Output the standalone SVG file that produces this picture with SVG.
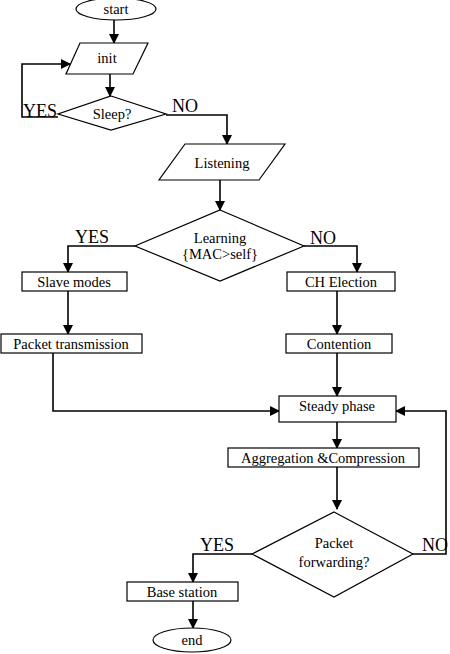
<svg xmlns="http://www.w3.org/2000/svg" width="450" height="654" viewBox="0 0 450 654">
<style>
.s{fill:#fff;stroke:#000;stroke-width:1.2}
.t{font-family:"Liberation Serif","Times New Roman",serif;font-size:14.5px;fill:#000;text-anchor:middle}
.l{font-family:"Liberation Serif","Times New Roman",serif;font-size:18px;fill:#000}
.c{fill:none;stroke:#000;stroke-width:1.6}
</style>
<defs>
<marker id="a" markerWidth="10" markerHeight="10" refX="9" refY="5" orient="auto" markerUnits="userSpaceOnUse">
<path d="M0,0 L10,5 L0,10 Z" fill="#000"/>
</marker>
</defs>
<rect width="450" height="654" fill="#fff"/>
<g id="connectors">
<path class="c" d="M114,20 V43" marker-end="url(#a)"/>
<path class="c" d="M110,74 V96" marker-end="url(#a)"/>
<path class="c" d="M58,117 H22 V64 H70" marker-end="url(#a)"/>
<path class="c" d="M166,115 H227 V144" marker-end="url(#a)"/>
<path class="c" d="M220,180 V210" marker-end="url(#a)"/>
<path class="c" d="M135,246 H68 V272" marker-end="url(#a)"/>
<path class="c" d="M304,246 H357 V272" marker-end="url(#a)"/>
<path class="c" d="M68,291 V334" marker-end="url(#a)"/>
<path class="c" d="M337,291 V334" marker-end="url(#a)"/>
<path class="c" d="M53,353 V411 H279" marker-end="url(#a)"/>
<path class="c" d="M337,353 V396" marker-end="url(#a)"/>
<path class="c" d="M337,422 V448" marker-end="url(#a)"/>
<path class="c" d="M337,467 V509" marker-end="url(#a)"/>
<path class="c" d="M413,554 H446 V411 H396" marker-end="url(#a)"/>
<path class="c" d="M252,554 H193 V582" marker-end="url(#a)"/>
<path class="c" d="M193,601 V628" marker-end="url(#a)"/>
</g>
<g id="start"><ellipse class="s" cx="116" cy="9" rx="40" ry="11"/><text class="t" x="116" y="14">start</text></g>
<g id="init"><polygon class="s" points="80,43 148,43 133,74 66,74"/><text class="t" x="107" y="63">init</text></g>
<g id="sleep"><polygon class="s" points="111,96 166,114 111,130 58,114"/><text class="t" x="112" y="119">Sleep?</text>
<text class="l" x="23" y="117">YES</text><text class="l" x="172" y="112">NO</text></g>
<g id="listening"><polygon class="s" points="185,144 285,144 259,180 159,180"/><text class="t" x="222" y="168">Listening</text></g>
<g id="learning"><polygon class="s" points="220,210 304,246 220,281 135,246"/><text class="t" x="220" y="243">Learning</text><text class="t" x="220" y="259">{MAC&gt;self}</text>
<text class="l" x="75" y="243">YES</text><text class="l" x="310" y="244">NO</text></g>
<g id="slave"><rect class="s" x="22" y="272" width="105" height="19"/><text class="t" x="74" y="287">Slave modes</text></g>
<g id="ch"><rect class="s" x="287" y="272" width="108" height="19"/><text class="t" x="341" y="287">CH Election</text></g>
<g id="packet"><rect class="s" x="1" y="334" width="141" height="19"/><text class="t" x="71" y="349">Packet transmission</text></g>
<g id="contention"><rect class="s" x="286" y="334" width="106" height="19"/><text class="t" x="339" y="349">Contention</text></g>
<g id="steady"><rect class="s" x="279" y="396" width="117" height="26"/><text class="t" x="337" y="411">Steady phase</text></g>
<g id="aggregation"><rect class="s" x="228" y="448" width="191" height="19"/><text class="t" x="323" y="463">Aggregation &amp;Compression</text></g>
<g id="forwarding"><polygon class="s" points="334,512 413,554 334,597 252,554"/><text class="t" x="334" y="548">Packet</text><text class="t" x="334" y="567">forwarding?</text>
<text class="l" x="200" y="551">YES</text><text class="l" x="422" y="551">NO</text></g>
<g id="base"><rect class="s" x="127" y="582" width="111" height="19"/><text class="t" x="182" y="597">Base station</text></g>
<g id="end"><ellipse class="s" cx="192" cy="640" rx="39" ry="12"/><text class="t" x="192" y="645">end</text></g>
</svg>
